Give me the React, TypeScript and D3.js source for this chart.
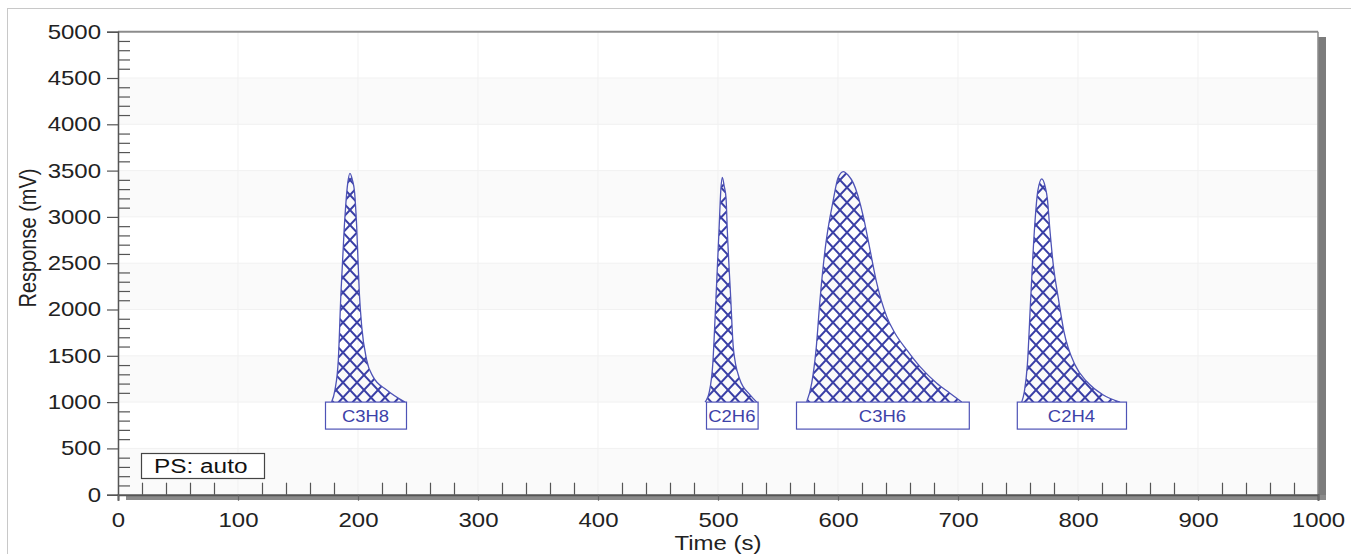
import React, { useEffect, useRef } from 'react';
import * as d3 from 'd3';

// peak outlines: [time (s), response (mV)]
const c3h8: [number, number][] = [
  [178, 1000], [180.8, 1131], [183.6, 1456], [185.8, 2180], [188.6, 2896], [191.4, 3360],
  [193.3, 3470], [195.3, 3400], [197.2, 3260], [198.9, 2896], [201.1, 2180], [203.1, 1815],
  [207.2, 1456], [212.5, 1275], [223.9, 1131], [239.2, 1000],
];
const c2h6: [number, number][] = [
  [489.2, 1000], [492.8, 1113], [495.6, 1402], [498.3, 2122], [500.8, 2842], [502.4, 3300],
  [503.6, 3426], [505.2, 3330], [506.7, 3203], [507.8, 2842], [510.6, 2122], [512.8, 1582],
  [517.8, 1258], [526.7, 1077], [532.3, 1000],
];
const c3h6: [number, number][] = [
  [573.9, 1000], [578.1, 1204], [581.7, 1564], [585, 2104], [589.2, 2644], [596.1, 3185],
  [600, 3420], [604.4, 3490], [608.5, 3450], [612.8, 3365], [621.1, 3004], [626.7, 2644],
  [632.3, 2284], [640.6, 1923], [647.5, 1744], [657.3, 1564], [668.3, 1383], [682.3, 1204],
  [693.3, 1096], [703.1, 1000],
];
const c2h4: [number, number][] = [
  [753.1, 1000], [755.3, 1113], [757.8, 1402], [760.6, 2122], [763.6, 2842], [766.5, 3280],
  [769.8, 3411], [772.6, 3330], [774.4, 3203], [776.7, 2842], [779.4, 2482], [783.6, 2122],
  [788.3, 1762], [797.5, 1402], [807.3, 1222], [821.1, 1077], [835, 1000],
];
const peaks = [c3h8, c2h6, c3h6, c2h4];

const peakNames = ['C3H8', 'C2H6', 'C3H6', 'C2H4'];
const labelStart = [172.5, 490, 565, 749];
const labelEnd = [240, 533, 709, 840];
const baseline = 1000;

const yTicks = [0, 500, 1000, 1500, 2000, 2500, 3000, 3500, 4000, 4500, 5000];
const xTicks = [0, 100, 200, 300, 400, 500, 600, 700, 800, 900, 1000];

const W = 1351;
const H = 554;
const BLUE = '#3a3fa6';
const FONT = '"Liberation Sans", Arial, sans-serif';
const STRETCH = 1.2;

const App = () => {
  const ref = useRef<SVGSVGElement>(null);

  useEffect(() => {
    const svg = d3.select(ref.current);
    svg.selectAll('*').remove();

    const x = d3.scaleLinear().domain([0, 1000]).range([118, 1318]);
    const y = d3.scaleLinear().domain([0, 5000]).range([494.7, 31.7]);

    // outer frame
    svg.append('rect').attr('x', 7.5).attr('y', 8.5).attr('width', W).attr('height', H)
      .attr('fill', 'white').attr('stroke', '#c8c8c8');

    const defs = svg.append('defs');
    defs.append('pattern')
      .attr('id', 'xhatch')
      .attr('patternUnits', 'userSpaceOnUse')
      .attr('width', 14).attr('height', 15)
      .append('path')
      .attr('d', 'M-7,-7.5L21,22.5M21,-7.5L-7,22.5')
      .attr('stroke', BLUE).attr('stroke-width', 2).attr('fill', 'none');

    // background bands + grid
    const bands = d3.range(0, 5000, 1000);
    svg.selectAll('.band').data(bands).enter().append('rect')
      .attr('x', x(0)).attr('width', x(1000) - x(0))
      .attr('y', d => y(d + 500)).attr('height', d => y(d) - y(d + 500))
      .attr('fill', '#fafafa');
    svg.selectAll('.hgrid').data(yTicks).enter().append('line')
      .attr('x1', x(0)).attr('x2', x(1000)).attr('y1', d => y(d)).attr('y2', d => y(d))
      .attr('stroke', '#f1f1f1');
    svg.selectAll('.vgrid').data(xTicks).enter().append('line')
      .attr('y1', y(0)).attr('y2', y(5000)).attr('x1', d => x(d)).attr('x2', d => x(d))
      .attr('stroke', '#f1f1f1');

    // shadow + frame
    svg.append('rect').attr('x', x(1000)).attr('y', 37).attr('width', 8).attr('height', 463)
      .attr('fill', '#7c7c7c');
    svg.append('rect').attr('x', 126).attr('y', 495).attr('width', x(1000) - 126 + 8).attr('height', 5)
      .attr('fill', '#8a8a8a');
    svg.append('line').attr('x1', x(0)).attr('x2', x(1000)).attr('y1', y(5000)).attr('y2', y(5000))
      .attr('stroke', '#8c8c8c').attr('stroke-width', 2);
    svg.append('line').attr('x1', x(1000)).attr('x2', x(1000)).attr('y1', y(5000)).attr('y2', y(0))
      .attr('stroke', '#8c8c8c').attr('stroke-width', 1.5);

    // peaks
    const area = d3.area<[number, number]>()
      .x(d => x(d[0])).y0(y(baseline)).y1(d => y(d[1]))
      .curve(d3.curveMonotoneX);
    const line = d3.line<[number, number]>()
      .x(d => x(d[0])).y(d => y(d[1]))
      .curve(d3.curveMonotoneX);

    svg.selectAll('.peak').data(peaks).enter().append('path')
      .attr('d', d => area(d))
      .attr('fill', 'url(#xhatch)');
    svg.selectAll('.peak-line').data(peaks).enter().append('path')
      .attr('d', d => line(d))
      .attr('fill', 'none').attr('stroke', '#4e53b6').attr('stroke-width', 1.3);

    // peak labels
    const lab = svg.selectAll('.lab').data(peakNames).enter().append('g');
    lab.append('rect')
      .attr('x', (_, i) => x(labelStart[i]) + 0.5)
      .attr('y', y(baseline))
      .attr('width', (_, i) => x(labelEnd[i]) - x(labelStart[i]))
      .attr('height', 27)
      .attr('fill', 'white').attr('stroke', '#4e53b6').attr('stroke-width', 1.2);
    lab.append('text')
      .attr('transform', (_, i) => `translate(${(x(labelStart[i]) + x(labelEnd[i])) / 2},${y(baseline) + 20}) scale(1.12,1)`)
      .attr('text-anchor', 'middle')
      .attr('font-family', FONT).attr('font-size', 16.5)
      .attr('fill', '#3d42a8')
      .text(d => d);

    // y axis
    const fmt = d3.format('d');
    const yMinor = d3.range(0, 5001, 100).filter(v => v % 500 !== 0);
    const yAx = svg.append('g').attr('transform', `translate(${x(0)},0)`)
      .call(d3.axisLeft(y).tickValues(yTicks).tickSize(11).tickPadding(5).tickFormat(fmt));
    yAx.select('.domain').attr('stroke', '#555').attr('stroke-width', 1.5);
    yAx.selectAll('.tick line').attr('stroke', '#555').attr('stroke-width', 1.2);
    yAx.selectAll('.tick text')
      .attr('x', -17 / STRETCH)
      .attr('transform', `scale(${STRETCH},1)`)
      .attr('font-family', FONT).attr('font-size', 20).attr('fill', '#222');
    const yMin = svg.append('g').attr('transform', `translate(${x(0)},0)`)
      .call(d3.axisRight(y).tickValues(yMinor).tickSize(12).tickFormat(() => ''));
    yMin.select('.domain').remove();
    yMin.selectAll('.tick line').attr('stroke', '#555').attr('stroke-width', 1.2);

    // x axis
    const xMinor = d3.range(20, 1000, 20).filter(v => v % 100 !== 0);
    const xAx = svg.append('g').attr('transform', `translate(0,${y(0)})`)
      .call(d3.axisBottom(x).tickValues(xTicks).tickSize(6).tickPadding(4).tickFormat(fmt));
    xAx.select('.domain').attr('stroke', '#555').attr('stroke-width', 2);
    xAx.selectAll('.tick line').attr('stroke', '#666').attr('stroke-width', 1.2);
    xAx.selectAll('.tick text')
      .attr('y', 18)
      .attr('transform', `scale(${STRETCH},1)`)
      .attr('font-family', FONT).attr('font-size', 20).attr('fill', '#222');
    const xMin = svg.append('g').attr('transform', `translate(0,${y(0)})`)
      .call(d3.axisTop(x).tickValues(xMinor).tickSize(12).tickFormat(() => ''));
    xMin.select('.domain').remove();
    xMin.selectAll('.tick line').attr('stroke', '#555').attr('stroke-width', 1.2);

    // axis titles
    svg.append('text')
      .attr('transform', `translate(${(x(0) + x(1000)) / 2},550) scale(${STRETCH},1)`)
      .attr('text-anchor', 'middle')
      .attr('font-family', FONT).attr('font-size', 20).attr('fill', '#222')
      .text('Time (s)');
    svg.append('text')
      .attr('transform', `translate(36,238) scale(${STRETCH},1) rotate(-90)`)
      .attr('text-anchor', 'middle')
      .attr('font-family', FONT).attr('font-size', 20).attr('fill', '#222')
      .text('Response (mV)');

    // PS box
    svg.append('rect').attr('x', 141.5).attr('y', 453.5).attr('width', 123).attr('height', 25)
      .attr('fill', 'white').attr('stroke', '#444').attr('stroke-width', 1.2);
    svg.append('text')
      .attr('transform', `translate(154,473) scale(1.25,1)`)
      .attr('font-family', FONT).attr('font-size', 19.5).attr('fill', '#111')
      .text('PS: auto');
  }, []);

  return (
    <svg
      ref={ref}
      width={W}
      height={H}
      style={{ position: 'absolute', left: 0, top: 0, background: 'white' }}
    />
  );
};

export default App;
